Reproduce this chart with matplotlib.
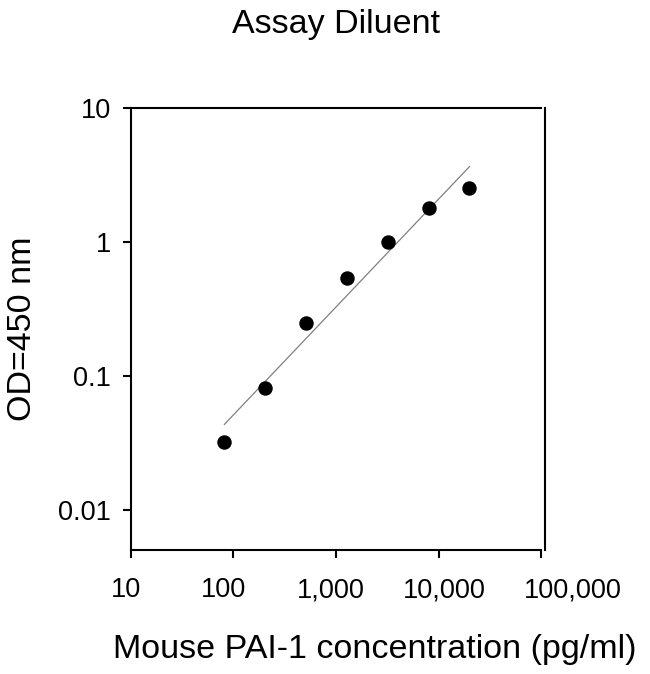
import numpy as np
import matplotlib
matplotlib.use("Agg")
import matplotlib.pyplot as plt
from matplotlib.transforms import ScaledTranslation

plt.rcParams['font.family'] = ['Liberation Sans', 'DejaVu Sans']

conc = [81.92, 204.8, 512, 1280, 3200, 8000, 20000]
od = [0.032, 0.081, 0.247, 0.54, 1.0, 1.8, 2.5]
xticks = [10, 100, 1000, 10000, 100000]
xticklabels = ["10", "100", "1,000", "10,000", "100,000"]
yticks = [0.01, 0.1, 1, 10]
yticklabels = ["0.01", "0.1", "1", "10"]

fig = plt.figure(figsize=(6.5, 6.74), dpi=100)
ax = fig.add_axes([0.201, 0.184, 0.6375, 0.656])

lx = np.log10(conc)
ly = np.log10(od)
slope, intercept = np.polyfit(lx, ly, 1)
fx = np.array([lx.min(), lx.max()])
ax.plot(10**fx, 10**(slope*fx + intercept), color='#808080', lw=0.9, zorder=2)
ax.plot(conc, od, 'o', color='black', markersize=9.4, zorder=3)

ax.set_xscale('log')
ax.set_yscale('log')
ax.set_xlim(10, 1.09e5)
ax.set_ylim(0.005, 10)
ax.spines['bottom'].set_bounds(10, 1e5)
ax.spines['top'].set_bounds(10, 1e5)
for s in ax.spines.values():
    s.set_linewidth(1.5)

ax.xaxis.set_minor_locator(matplotlib.ticker.NullLocator())
ax.yaxis.set_minor_locator(matplotlib.ticker.NullLocator())
ax.set_xticks(xticks)
ax.set_xticklabels(xticklabels)
ax.set_yticks(yticks)
ax.set_yticklabels(yticklabels)
ax.tick_params(axis='both', which='major', direction='out', length=5.5, width=1.5,
               labelsize=19.5, pad=14, top=False, right=False)
ax.tick_params(axis='y', pad=8.5)

# the reference places the x tick labels slightly off their ticks
label_shift_px = [-4.5, -10, -5, 5.5, 32]
for lab, dx in zip(ax.get_xticklabels(), label_shift_px):
    lab.set_transform(lab.get_transform() + ScaledTranslation(dx / 100.0, 0, fig.dpi_scale_trans))

fig.text(0.517, 0.963, "Assay Diluent", ha='center', va='center', fontsize=24.5)
fig.text(0.577, 0.036, "Mouse PAI-1 concentration (pg/ml)", ha='center', va='center', fontsize=24.5)
fig.text(0.034, 0.512, "OD=450 nm", ha='center', va='center', fontsize=24.5, rotation=90)

fig.savefig("out.png", dpi=100)
